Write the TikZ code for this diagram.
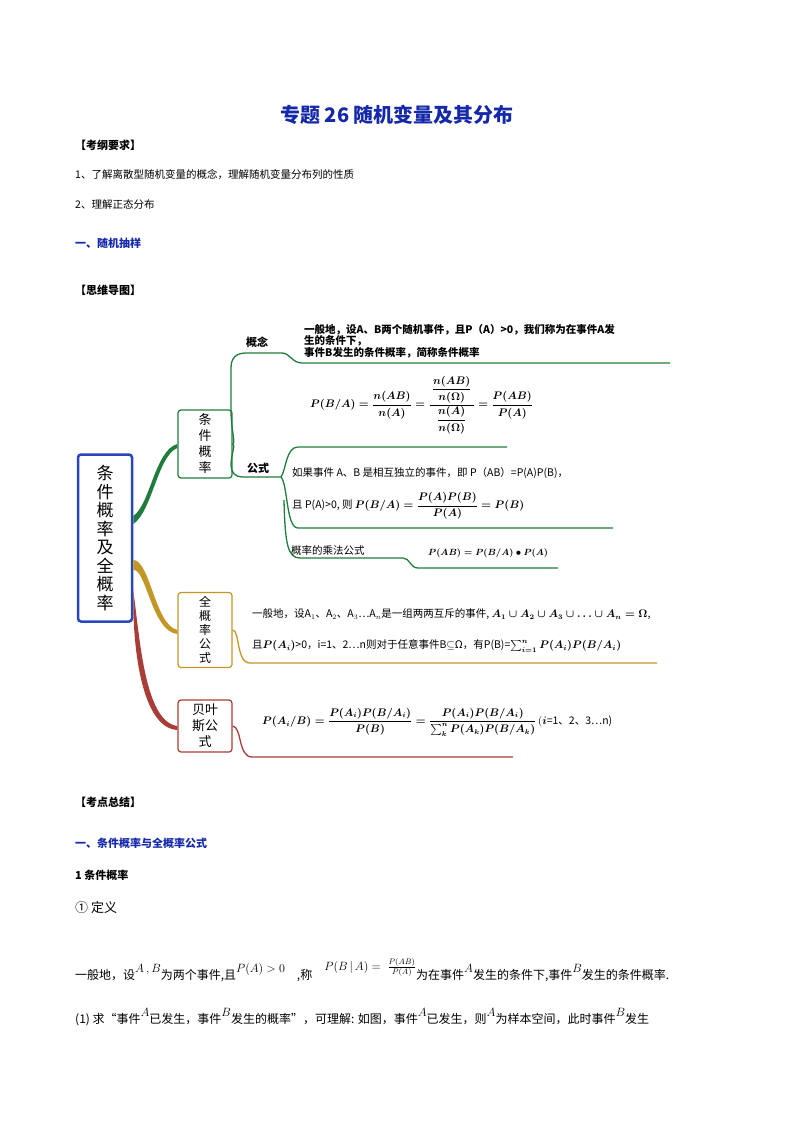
\documentclass[tikz,border=0pt]{standalone}
\usepackage{fontspec}
\usepackage{amsmath}
\setmainfont{Liberation Serif}
\newfontfamily\cjk{Noto Sans CJK SC}
\usetikzlibrary{positioning,calc}
\definecolor{mmblue}{RGB}{40,70,190}
\definecolor{mmgreen}{RGB}{30,125,60}
\definecolor{mmgold}{RGB}{195,150,40}
\definecolor{mmred}{RGB}{170,60,55}
\definecolor{headblue}{RGB}{20,40,170}
\newcommand{\hi}[1]{\raisebox{7pt}{$#1$}}
\begin{document}
\begin{tikzpicture}[
    x=1pt, y=-1pt,
    font=\cjk\fontsize{10.5}{13}\selectfont,
    txt/.style={anchor=west, inner sep=0pt},
    head/.style={txt, font=\cjk\bfseries\fontsize{11}{13}\selectfont},
    bluehead/.style={head, text=headblue},
    subbox/.style={draw=#1, line width=1.2pt, rounded corners=3pt, minimum width=54pt,
        align=center, font=\cjk\fontsize{13}{16}\selectfont, inner sep=2pt},
    twig/.style={draw=#1, line width=1.3pt}
  ]
  \useasboundingbox (0,0) rectangle (794,1123);

  % title and head lines
  \node[font=\cjk\bfseries\fontsize{20}{24}\selectfont, text=headblue] (title) at (397,115) {专题 26 随机变量及其分布};
  \node[head] (req) at (75,145) {【考纲要求】};
  \node[txt] (req1) at (75,175) {1、了解离散型随机变量的概念，理解随机变量分布列的性质};
  \node[txt] (req2) at (75,205) {2、理解正态分布};
  \node[bluehead] (sec1) at (75,243) {一、随机抽样};
  \node[head] (map) at (75,290) {【思维导图】};

  % mind map boxes
  \node[draw=mmblue, line width=2.5pt, rounded corners=3pt, minimum width=54pt, minimum height=167pt,
        align=center, font=\cjk\fontsize{17}{18.5}\selectfont] (root) at (105,538)
        {条\\件\\概\\率\\及\\全\\概\\率};
  \node[subbox=mmgreen, minimum height=68pt] (cond) at (205,444) {条\\件\\概\\率};
  \node[subbox=mmgold, minimum height=75pt, font=\cjk\fontsize{12}{14}\selectfont] (total) at (205,630) {全\\概\\率\\公\\式};
  \node[subbox=mmred, minimum height=52pt] (bayes) at (205,726) {贝叶\\斯公\\式};

  % branches
  \fill[mmgreen] ($(root.east)+(0,-22)$) .. controls (150,505) and (155,450) .. (cond.west)
    -- ++(0,4) .. controls (158,455) and (152,512) .. ($(root.east)+(0,-14)$) -- cycle;
  \fill[mmgold] ($(root.east)+(0,22)$) .. controls (150,560) and (155,625) .. (total.west)
    -- ++(0,4) .. controls (152,632) and (146,568) .. ($(root.east)+(0,32)$) -- cycle;
  \fill[mmred] ($(root.east)+(0,52)$) .. controls (140,640) and (145,722) .. (bayes.west)
    -- ++(0,4) .. controls (142,728) and (133,650) .. ($(root.east)+(0,60)$) -- cycle;

  % green twigs
  \draw[twig=mmgreen] (cond.east) .. controls (236,444) and (231,430) .. (231,410) -- (231,368)
    .. controls (231,358) and (236,353) .. (246,353) -- (282,353)
    .. controls (290,353) and (292,363) .. (302,363) -- (670,363);
  \draw[twig=mmgreen] (cond.east) .. controls (236,444) and (231,455) .. (231,465)
    .. controls (231,472) and (235,477) .. (242,477) -- (281,477);
  \draw[twig=mmgreen] (281,477) .. controls (286,470) and (286,447) .. (298,447) -- (507,447);
  \draw[twig=mmgreen] (281,477) .. controls (288,485) and (286,528) .. (298,528) -- (613,528);
  \draw[twig=mmgreen] (284,500) .. controls (285,545) and (288,558) .. (300,558) -- (403,558)
    .. controls (410,558) and (410,568) .. (418,568) -- (558,568);

  % gold and red twigs
  \draw[twig=mmgold] (total.east) .. controls (240,630) and (236,663) .. (250,663) -- (657,663);
  \draw[twig=mmred] (bayes.east) .. controls (242,727) and (238,757) .. (252,757) -- (513,757);

  % green texts
  \node[txt, font=\cjk\bfseries\fontsize{11}{13}\selectfont] (concept) at (246,342) {概念};
  \node[txt, align=left, font=\cjk\bfseries\fontsize{10.5}{11.5}\selectfont] (conceptx) at (304,341)
    {一般地，设A、B两个随机事件，且P（A）>0，我们称为在事件A发\\生的条件下，\\事件B发生的条件概率，简称条件概率};
  \node[txt] (cfrac) at (310,405)
    {$\boldsymbol{P(B/A)=\dfrac{n(AB)}{n(A)}=\dfrac{\,\dfrac{n(AB)}{n(\Omega)}\,}{\dfrac{n(A)}{n(\Omega)}}=\dfrac{P(AB)}{P(A)}}$};
  \node[txt, font=\cjk\bfseries\fontsize{11}{13}\selectfont] (formula) at (247,468) {公式};
  \node[txt] (indep1) at (292,473) {如果事件 A、B 是相互独立的事件，即 P（AB）=P(A)P(B)，};
  \node[txt] (indep2) at (292,506) {且 P(A)>0, 则 $\boldsymbol{P(B/A)=\dfrac{P(A)P(B)}{P(A)}=P(B)}$};
  \node[txt] (mult) at (291,550) {概率的乘法公式};
  \node[txt] (multf) at (428,553) {\small$\boldsymbol{P(AB)=P(B/A)\bullet P(A)}$};

  % gold texts
  \node[txt] (tot1) at (252,614) {一般地，设A$_1$、A$_2$、A$_3$…A$_n$是一组两两互斥的事件,
    $\boldsymbol{A_1\cup A_2\cup A_3\cup\ldots\cup A_n=\Omega}$,};
  \node[txt] (tot2) at (252,646) {且$\boldsymbol{P(A_i)}$>0，i=1、2…n则对于任意事件B$\subseteq$Ω，有P(B)=$\boldsymbol{\sum\nolimits_{i=1}^{n}P(A_i)P(B/A_i)}$};

  % red text
  \node[txt] (bayesf) at (262,722)
    {$\boldsymbol{P(A_i/B)=\dfrac{P(A_i)P(B/A_i)}{P(B)}=\dfrac{P(A_i)P(B/A_i)}{\sum\nolimits_{k}^{n}P(A_k)P(B/A_k)}}$\,$(\boldsymbol{i}$=1、2、3…n)};

  % summary
  \node[head] (sum) at (75,802) {【考点总结】};
  \node[bluehead] (sec2) at (75,843) {一、条件概率与全概率公式};
  \node[head] (sub1) at (75,875) {1 条件概率};
  \node[txt, font=\cjk\fontsize{13}{15}\selectfont] (def) at (75,908) {① 定义};
  \node[txt, font=\cjk\fontsize{12}{14}\selectfont] (defx) at (75,970)
    {一般地，设\hi{A\,,B}为两个事件,且\hi{P(A)>0}\quad ,称\quad \raisebox{9pt}{$P(B\,|\,A)=\;\frac{P(AB)}{P(A)}$}为在事件\hi{A}发生的条件下,事件\hi{B}发生的条件概率.};
  \node[txt, font=\cjk\fontsize{12}{14}\selectfont] (expl) at (75,1017)
    {(1) 求“事件\hi{A}已发生，事件\hi{B}发生的概率”，可理解: 如图，事件\hi{A}已发生，则\hi{A}为样本空间，此时事件\hi{B}发生};
\end{tikzpicture}
\end{document}
